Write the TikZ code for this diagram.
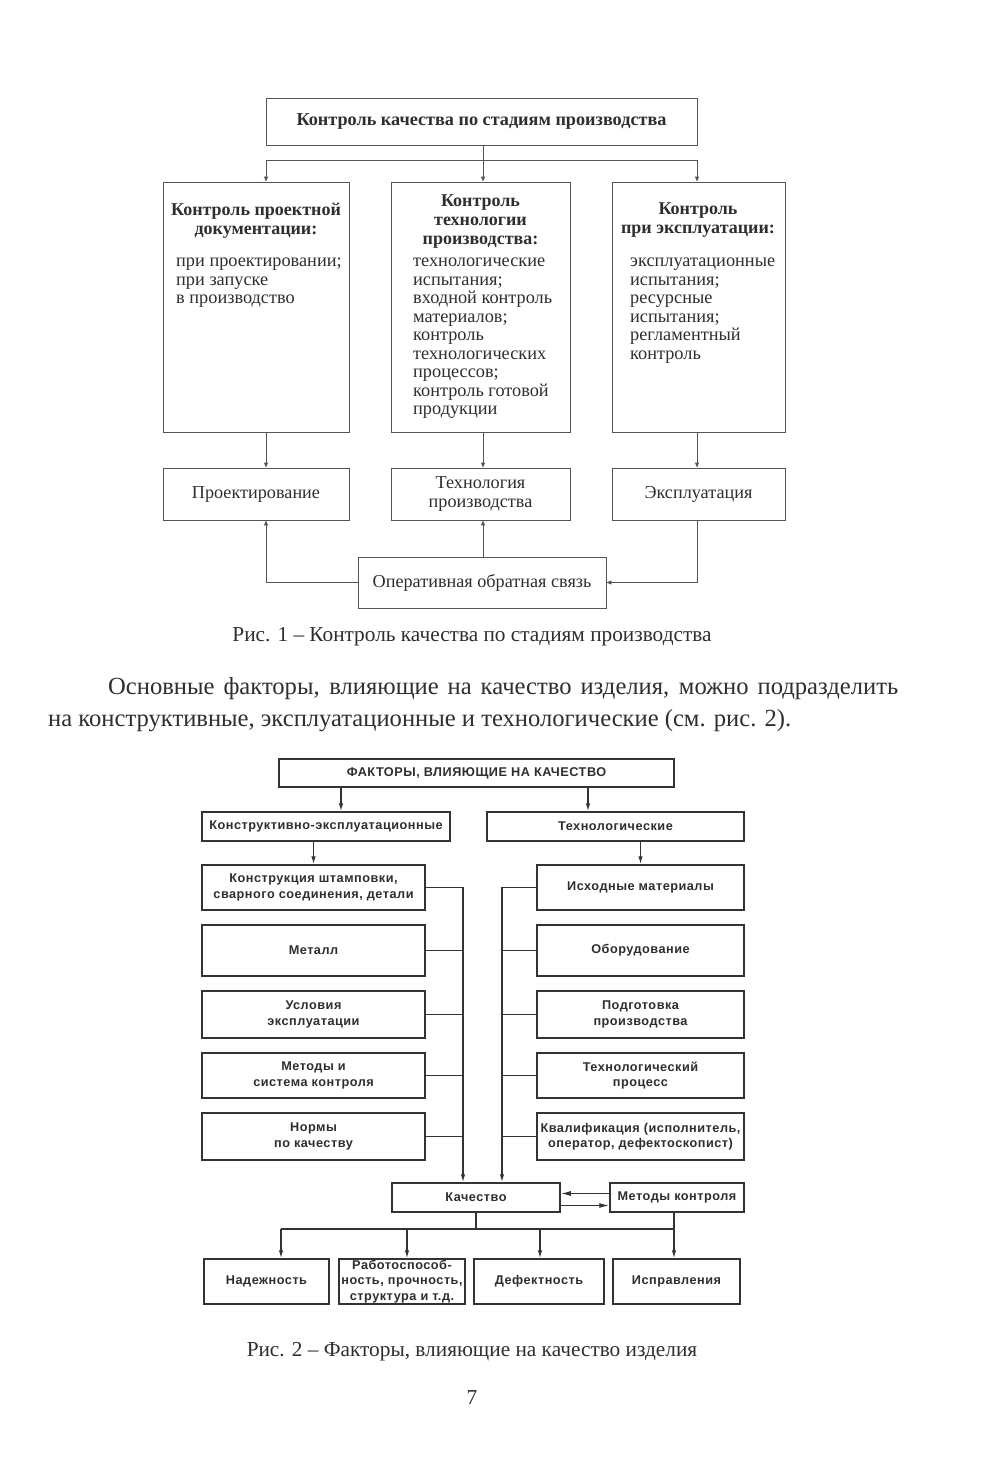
\documentclass[tikz,border=0pt]{standalone}
\usepackage{fontspec}
\setmainfont{Liberation Serif}
\newfontfamily\figsans[LetterSpace=4]{Liberation Sans}
\usetikzlibrary{arrows.meta,calc}
\definecolor{ink}{HTML}{2E2E2E}
\definecolor{lineA}{HTML}{555555}
\definecolor{lineB}{HTML}{333333}
\tikzset{
  boxA/.style={draw=lineA, line width=0.9pt, inner sep=0pt, align=center, text=ink,
     font=\fontsize{18.2}{18.5}\selectfont},
  headA/.style={inner sep=0pt, align=center, text=ink, font=\bfseries\fontsize{18}{19}\selectfont},
  bodyA/.style={inner sep=0pt, align=left, text=ink, font=\fontsize{18.3}{18.5}\selectfont},
  conA/.style={draw=lineA, line width=0.9pt},
  arrA/.style={conA, -{Triangle[length=5pt,width=4pt]}},
  boxB/.style={draw=lineB, line width=1.5pt, inner sep=0pt, align=center, text=ink,
     font=\figsans\bfseries\fontsize{12.7}{15.5}\selectfont},
  conB/.style={draw=lineB, line width=1.3pt},
  arrB/.style={conB, -{Latex[length=8pt,width=4.5pt]}},
  arrBB/.style={conB, -{Latex[length=10pt,width=5pt]}},
  capt/.style={inner sep=0pt, text=ink, font=\fontsize{21.3}{24}\selectfont},
  para/.style={inner sep=0pt, text=ink, font=\fontsize{24.6}{32}\selectfont, anchor=base west},
}
\begin{document}
\begin{tikzpicture}[x=1pt,y=-1pt]
\useasboundingbox[fill=white] (0,0) rectangle (1000,1480);

% ---------- Figure 1 ----------
\node[boxA, minimum width=431pt, minimum height=47pt, font=\bfseries\fontsize{18.2}{19}\selectfont] (top) at (481.5,121.5) {Контроль качества по стадиям производства};

\node[boxA, minimum width=186pt, minimum height=250pt] (b1) at (256,307) {};
\node[boxA, minimum width=179pt, minimum height=250pt] (b2) at (480.5,307) {};
\node[boxA, minimum width=173pt, minimum height=250pt] (b3) at (698.5,307) {};

\node[headA, anchor=north] (h1) at (256,203) {Контроль проектной\\документации:};
\node[bodyA, anchor=north west] (t1) at (176,258) {при проектировании;\\при запуске\\в производство};
\node[headA, anchor=north] (h2) at (480.5,195) {Контроль\\технологии\\производства:};
\node[bodyA, anchor=north west] (t2) at (413,258) {технологические\\испытания;\\входной контроль\\материалов;\\контроль\\технологических\\процессов;\\контроль готовой\\продукции};
\node[headA, anchor=north] (h3) at (698,203) {Контроль\\при эксплуатации:};
\node[bodyA, anchor=north west] (t3) at (630,258) {эксплуатационные\\испытания;\\ресурсные\\испытания;\\регламентный\\контроль};

\node[boxA, minimum width=186pt, minimum height=52pt] (pr) at (256,494) {Проектирование};
\node[boxA, minimum width=179pt, minimum height=52pt] (te) at (480.5,494) {Технология\\производства};
\node[boxA, minimum width=173pt, minimum height=52pt] (ex) at (698.5,494) {Эксплуатация};
\node[boxA, minimum width=248pt, minimum height=51pt] (os) at (482,582.5) {Оперативная обратная связь};

\coordinate (j1) at (483,160);
\draw[conA] (top.south -| j1) -- (j1);
\draw[arrA] (j1) -| ([xshift=10pt]b1.north);
\draw[arrA] (j1) -- ([xshift=2.5pt]b2.north);
\draw[arrA] (j1) -| ([xshift=-1.5pt]b3.north);
\draw[arrA] ([xshift=10pt]b1.south) -- ([xshift=10pt]pr.north);
\draw[arrA] ([xshift=2.5pt]b2.south) -- ([xshift=2.5pt]te.north);
\draw[arrA] ([xshift=-1.5pt]b3.south) -- ([xshift=-1.5pt]ex.north);
\draw[arrA] (os.west) -| ([xshift=10pt]pr.south);
\draw[arrA] ([xshift=1pt]os.north) -- ([xshift=2.5pt]te.south);
\draw[arrA] ([xshift=-1.5pt]ex.south) |- (os.east);

\node[capt] (cap1) at (472,637) {Рис. 1 – Контроль качества по стадиям производства};

% ---------- Paragraph ----------
\node[para] (p1) at (108,694) {\makebox[790pt][s]{Основные факторы, влияющие на качество изделия, можно подразделить}};
\node[para] (p2) at (48,726) {на конструктивные, эксплуатационные и технологические (см. рис. 2).};

% ---------- Figure 2 ----------
\node[boxB, minimum width=395pt, minimum height=28pt] (F) at (476.5,773) {ФАКТОРЫ, ВЛИЯЮЩИЕ НА КАЧЕСТВО};
\node[boxB, minimum width=248pt, minimum height=29pt] (KE) at (326,826.5) {Конструктивно-эксплуатационные};
\node[boxB, minimum width=257pt, minimum height=29pt] (TE) at (615.5,826.5) {Технологические};

\node[boxB, minimum width=223pt, minimum height=45pt] (L1) at (313.5,887.5) {Конструкция штамповки,\\сварного соединения, детали};
\node[boxB, minimum width=223pt, minimum height=51pt] (L2) at (313.5,950.5) {Металл};
\node[boxB, minimum width=223pt, minimum height=47pt] (L3) at (313.5,1014.5) {Условия\\эксплуатации};
\node[boxB, minimum width=223pt, minimum height=45pt] (L4) at (313.5,1075.5) {Методы и\\система контроля};
\node[boxB, minimum width=223pt, minimum height=47pt] (L5) at (313.5,1136.5) {Нормы\\по качеству};

\node[boxB, minimum width=207pt, minimum height=45pt] (R1) at (640.5,887.5) {Исходные материалы};
\node[boxB, minimum width=207pt, minimum height=51pt] (R2) at (640.5,950.5) {Оборудование};
\node[boxB, minimum width=207pt, minimum height=47pt] (R3) at (640.5,1014.5) {Подготовка\\производства};
\node[boxB, minimum width=207pt, minimum height=45pt] (R4) at (640.5,1075.5) {Технологический\\процесс};
\node[boxB, minimum width=207pt, minimum height=47pt] (R5) at (640.5,1136.5) {Квалификация (исполнитель,\\оператор, дефектоскопист)};

\node[boxB, minimum width=168pt, minimum height=29pt] (Q) at (476,1197.5) {Качество};
\node[boxB, minimum width=134pt, minimum height=29pt] (M) at (677,1197.5) {Методы контроля};

\node[boxB, minimum width=125pt, minimum height=45pt] (N1) at (266.5,1281.5) {Надежность};
\node[boxB, minimum width=126pt, minimum height=45pt] (N2) at (402,1281.5) {Работоспособ-\\ность, прочность,\\структура и т.д.};
\node[boxB, minimum width=130pt, minimum height=45pt] (N3) at (539,1281.5) {Дефектность};
\node[boxB, minimum width=127pt, minimum height=45pt] (N4) at (676.5,1281.5) {Исправления};

\draw[arrB] (F.south -| 341,0) -- (KE.north -| 341,0);
\draw[arrB] (F.south -| 588,0) -- (TE.north -| 588,0);
\draw[arrB] (KE.south -| L1.north) -- (L1.north);
\draw[arrB] (TE.south -| R1.north) -- (R1.north);

\coordinate (busL) at (463,887.5);
\coordinate (busR) at (502,887.5);
\draw[arrB] (L1.east) -- (busL) -- (Q.north -| busL);
\draw[arrB] (R1.west) -- (busR) -- (Q.north -| busR);
\foreach \b in {L2,L3,L4,L5}{\draw[conB] (\b.east) -- (\b.east -| busL);}
\foreach \b in {R2,R3,R4,R5}{\draw[conB] (\b.west) -- (\b.west -| busR);}

\draw[arrBB] ([yshift=4pt]M.west) -- ([yshift=4pt]Q.east);
\draw[arrBB] ([yshift=-8pt]Q.east) -- ([yshift=-8pt]M.west);

\coordinate (jb) at (476,1229);
\coordinate (jbL) at (281,1229);
\coordinate (jbR) at (674,1229);
\draw[conB] (Q.south) -- (jb);
\draw[conB] (jbL) -- (jbR);
\draw[conB] ([xshift=-3pt]M.south) -- (jbR);
\draw[arrB] (jbL) -- ([xshift=14.5pt]N1.north);
\draw[arrB] (jb -| 407,0) -- ([xshift=5pt]N2.north);
\draw[arrB] (jb -| 540,0) -- ([xshift=1pt]N3.north);
\draw[arrB] (jbR) -- ([xshift=-2.5pt]N4.north);

\node[capt] (cap2) at (472,1352) {Рис. 2 – Факторы, влияющие на качество изделия};
\node[capt] (pg) at (472,1398) {7};
\end{tikzpicture}
\end{document}
